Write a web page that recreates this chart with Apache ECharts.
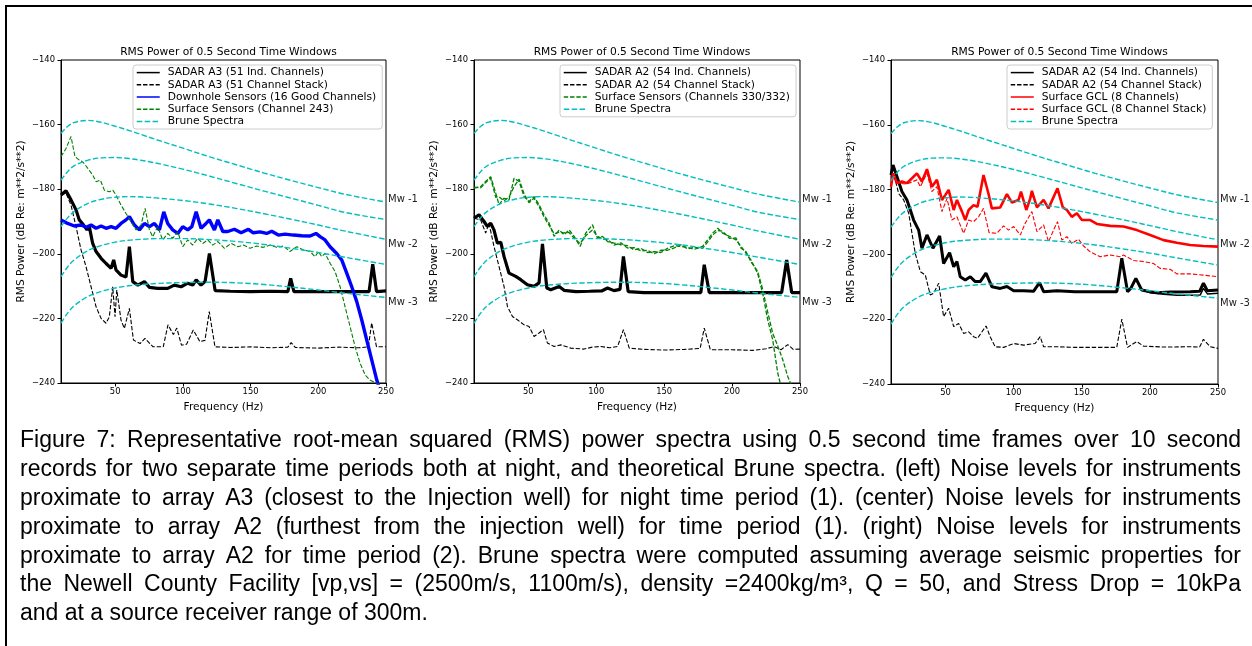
<!DOCTYPE html>
<html>
<head>
<meta charset="utf-8">
<script src="https://cdn.jsdelivr.net/npm/echarts@6/dist/echarts.min.js"></script>
<style>html,body{margin:0;padding:0;background:#fff;}#c{width:1252px;height:646px;}</style>
</head>
<body>
<div id="c"></div>
<script>
// ---------------- DATA ----------------
const chartTitle = 'RMS Power of 0.5 Second Time Windows';
const xTicks = [50, 100, 150, 200, 250];
const mwLabels = ['Mw -1', 'Mw -2', 'Mw -3'];

// Brune spectra (shared by all three panels)
const bruneFreq = [10, 15, 20, 30, 40, 50, 60, 70, 80, 100, 120, 140, 160, 180, 200, 220, 250];
const brune1 = [-162.7, -160.5, -159.3, -158.7, -159.3, -160.5, -161.8, -163.2, -164.6, -167.3, -170, -172.5, -175, -177.3, -179.5, -181.6, -184];
const brune2 = [-177.2, -174.5, -172.7, -171, -170.3, -170.2, -170.5, -171.1, -171.9, -173.8, -176, -178.3, -180.6, -182.8, -185, -187.2, -189.4];
const brune3 = [-191.6, -188.8, -186.8, -184.4, -183.1, -182.5, -182.3, -182.4, -182.7, -183.5, -184.6, -186, -187.6, -189.3, -191.1, -193, -195.5];
const brune4 = [-207.1, -204, -201.8, -199, -197.4, -196.4, -195.8, -195.5, -195.3, -195.3, -195.6, -196.2, -197.1, -198.3, -199.6, -201.1, -203.3];
const brune5 = [-221.5, -218.3, -216, -213.2, -211.6, -210.6, -209.9, -209.5, -209.2, -208.9, -208.8, -209, -209.5, -210.3, -211.2, -212.2, -213.5];

// Panel 1 (array A3)
const p1Ind = [[10,-181.8],[13.7,-180.5],[17.4,-183.3],[21.1,-186.4],[23.5,-189.5],[26.7,-191.1],[29.2,-192.6],[30.9,-191.6],[33.4,-196.8],[35.9,-199.3],[39.6,-201.4],[43.3,-203],[47,-204.5],[48.9,-201.9],[50.6,-205],[54.3,-206.6],[58,-207.2],[60.5,-197.8],[63,-208.6],[66.7,-209.7],[71.6,-208.6],[75.3,-210.4],[81.4,-210.7],[88.8,-210.7],[93.7,-209.7],[98.7,-210.2],[103.6,-209.1],[107.3,-209.7],[109.8,-208.1],[113.4,-209.7],[116.4,-208.6],[119.6,-199.9],[123.8,-211.4],[135,-211.6],[150,-211.7],[165,-211.6],[177.5,-211.7],[179.6,-207.6],[182,-211.7],[200,-211.7],[220,-211.7],[237.5,-211.7],[240.2,-203.2],[243,-211.7],[250,-211.5]];
const p1Stack = [[10,-181.8],[13.7,-181.2],[17.4,-184.9],[21.1,-191.6],[24.8,-198.8],[28.5,-204],[32.2,-210.2],[35.9,-216.4],[39.6,-220],[43.3,-221.5],[45.7,-219.5],[48.2,-210.2],[49.9,-219.5],[51.2,-211.2],[54.3,-220.5],[56.8,-223.1],[60.5,-216.9],[63.5,-226.7],[68.4,-227.8],[72,-226.2],[78,-228.8],[85.5,-228.8],[89,-222],[93,-225],[95.5,-223],[99,-228.3],[102.7,-228],[107.7,-223.6],[112.6,-227.2],[116.3,-226.8],[119.5,-217.9],[123.7,-228.8],[135,-229],[150,-228.8],[165,-229.1],[177.5,-228.9],[180,-227.5],[183,-229],[200,-229.2],[215,-228.9],[230,-229.1],[237,-228.8],[239.4,-221.4],[243,-228.8],[250,-228.8]];
const p1Downhole = [[10,-189.5],[14.9,-190.6],[19.9,-191.4],[24.8,-191.1],[28.5,-191.8],[32.2,-191.1],[35.9,-192.1],[39.6,-191.4],[43.3,-192.1],[47,-191.6],[50.6,-192.1],[54.3,-190.6],[58,-189.5],[60.5,-188.5],[64.2,-191.1],[67.9,-192.6],[71.6,-190.6],[75.3,-191.6],[79,-190.6],[82.7,-192.6],[85.9,-187],[88.8,-190.6],[92.5,-192.6],[96.2,-193.7],[99.9,-191.6],[103.6,-192.6],[106.6,-191.6],[109.8,-187],[113.4,-192.1],[117.1,-190.6],[119.6,-189.5],[123.3,-192.6],[125.8,-189.5],[129.5,-193.1],[133.2,-193.1],[138,-192.4],[143,-193.5],[148.4,-192.4],[152,-193.5],[157,-193.2],[161.9,-193.7],[165.6,-193],[170.5,-194.2],[175.4,-193.9],[181.6,-194.2],[187.8,-194.4],[193.9,-194.5],[198.3,-193.7],[201.3,-194.7],[205,-195.7],[208.7,-197.8],[213.6,-199.9],[217.3,-201.9],[221,-206],[224.7,-210.2],[228.4,-214.8],[232.1,-220.5],[235.8,-226.7],[239.5,-232.9],[243.2,-239.1],[246,-243],[250,-248]];
const p1Surface = [[10,-169.9],[13.7,-167.4],[17.4,-163.7],[20.3,-169.9],[23.5,-171],[26,-171.5],[29.7,-173.5],[33.4,-175.6],[35.9,-177.7],[39.1,-177.2],[42,-180.3],[45.7,-180.8],[48.2,-180.3],[50.6,-181.8],[54.3,-184.9],[58,-187.5],[61.7,-190],[65.4,-192.6],[69.1,-191.1],[72.1,-185.9],[75.3,-192.6],[77.7,-194.7],[81.4,-191.6],[85.1,-195.7],[88.8,-193.7],[92.5,-195.2],[96.2,-193.2],[99.9,-197.8],[103.6,-195.7],[107.3,-197.3],[111,-195.2],[114.7,-196.8],[118.4,-195.7],[122,-197.3],[125.8,-196.2],[130.7,-198.3],[135.6,-196.8],[140.5,-197.8],[144.7,-197.3],[149.6,-198.3],[154.5,-197.6],[159.4,-198],[164.4,-197.3],[169.3,-198],[174.2,-197.6],[179.1,-199.3],[184.1,-197.8],[189,-198.8],[193.9,-199.3],[197.6,-200.9],[200.1,-199.3],[202.5,-200.9],[205,-199.9],[208.7,-202.9],[212.4,-205.5],[216.1,-210.2],[219.8,-216.4],[223.5,-222.6],[227.2,-228.8],[230.9,-233.9],[234.6,-237.5],[238.2,-239.1],[243.2,-240.1],[250,-240.5]];

// Panel 2 (array A2, period 1)
const p2Ind = [[10,-189],[13.7,-187.9],[17.4,-190],[19.8,-191.5],[22.3,-190.5],[24.7,-192.6],[27.2,-196.7],[29.7,-196.4],[32.1,-200.8],[35.8,-206],[40.7,-207],[44.4,-208],[49.3,-209.6],[54.2,-210.1],[57.9,-209],[60.4,-196.9],[63.6,-210.6],[66.5,-211.1],[72.7,-210.1],[76.3,-211.3],[85,-211.7],[95,-211.6],[104,-211.5],[108.3,-210.6],[113,-211.4],[117.5,-211],[120,-200.8],[123.5,-211.7],[135,-212],[150,-212],[165,-212],[177,-212],[179.5,-203.4],[183.2,-212],[200,-212],[220,-212],[236.5,-212],[240.2,-201.9],[243.9,-212],[250,-212]];
const p2Stack = [[10,-189],[14.9,-189.5],[18.6,-193.6],[21,-190.5],[24.7,-197.7],[28.4,-203.9],[32.1,-210.1],[34.6,-216.3],[38.3,-219.4],[41.9,-220.4],[46.9,-222],[50.5,-222.5],[54.2,-225.6],[57.9,-224.5],[61.1,-223.5],[64,-227.6],[69,-228.7],[73.9,-228.2],[81.3,-229.2],[91,-229.5],[97,-228.9],[103.4,-228.7],[110,-229.1],[115.7,-228.7],[120,-223.5],[124.3,-229.2],[135,-229.6],[150,-229.8],[165,-229.6],[176.5,-229.3],[179.5,-223],[184,-229.7],[200,-229.7],[215,-229.9],[225,-229.4],[231,-228.7],[236,-229.7],[241,-228.1],[245,-229.6],[250,-229.5]];
const p2SurfaceA = [[10,-179.7],[14.9,-179.2],[18.6,-177.6],[22.3,-176.1],[26,-181.2],[28.4,-184.8],[32.1,-182.8],[35.8,-183.3],[39.5,-176.6],[43.2,-177.6],[46.9,-182.3],[50.5,-183.8],[54.2,-182.3],[57.9,-184.8],[61.6,-187.9],[65.3,-190.5],[69,-194.6],[72.7,-192.6],[76.3,-194.1],[80,-192.6],[83.7,-194.6],[88.1,-197.7],[92.3,-193.6],[97.2,-191],[100.9,-195.2],[104.6,-194.6],[108.3,-196.2],[113.2,-196.7],[118.1,-197.2],[123,-197.5],[127.9,-198.8],[132.9,-198.3],[137.8,-199.6],[142.7,-199.3],[147.6,-199.6],[152.5,-198.3],[157.4,-197.5],[162.3,-197.7],[167.2,-198],[172.2,-198.6],[178.3,-197.7],[182,-195.7],[185.7,-193.6],[189.4,-192.1],[193,-193.6],[198,-194.6],[202.9,-195.7],[206.6,-197.7],[210.2,-199.8],[213.9,-201.9],[218.8,-206],[222.5,-212.2],[226.2,-220.4],[229.9,-226.6],[233.6,-236.9],[236,-241],[240,-247]];
const p2SurfaceB = [[10,-179.4],[14.9,-179.6],[18.6,-177.9],[22.3,-176.6],[26,-182.5],[28.4,-182.3],[32.1,-183.6],[35.8,-182.4],[39.5,-179.2],[43.2,-176.9],[46.9,-181.5],[50.5,-184.2],[54.2,-182.8],[57.9,-185.4],[61.6,-188.6],[65.3,-191.2],[69,-193.8],[72.7,-193.3],[76.3,-193.5],[80,-193.4],[83.7,-195.2],[88.1,-196.8],[92.3,-194.4],[97.2,-192.6],[100.9,-194.6],[104.6,-195.4],[108.3,-195.6],[113.2,-197.3],[118.1,-196.6],[123,-198.2],[127.9,-198.1],[132.9,-199.1],[137.8,-198.9],[142.7,-200],[147.6,-198.9],[152.5,-198.9],[157.4,-198.2],[162.3,-197.2],[167.2,-198.5],[172.2,-198],[178.3,-198.3],[182,-196.4],[185.7,-194.2],[189.4,-192.8],[193,-193],[198,-195.2],[202.9,-195.1],[206.6,-198.3],[210.2,-199.3],[213.9,-202.5],[218.8,-205.4],[222.5,-211],[226.2,-218],[229.9,-224.6],[233.6,-228.5],[237.3,-232.8],[241,-238],[243.4,-240.5],[246,-244]];

// Panel 3 (array A2, period 2)
const p3Ind = [[10,-175.5],[11.5,-172.4],[14.4,-176],[18,-180.6],[21.7,-183.2],[24.2,-186.3],[26.6,-189.4],[30.3,-192.5],[32.7,-198.1],[36.4,-194],[40.8,-198.1],[45.7,-194.3],[48.6,-202.8],[53,-199.5],[56,-203.8],[58.4,-202.2],[60.8,-206.9],[64.5,-207.9],[68.2,-206.9],[71.8,-208.4],[75.5,-208.4],[79.7,-205.8],[84.1,-210],[90.2,-210.5],[95.1,-209.9],[100,-211.2],[107.3,-211.2],[114.6,-211.4],[119,-208.7],[122,-211.5],[131.7,-211.2],[145,-211.5],[160,-211.5],[175.7,-211.5],[179.4,-201.2],[183.6,-211.5],[186,-210.5],[189.7,-207.4],[194,-211],[200.2,-211.5],[205,-211.8],[215,-211.6],[229.5,-211.5],[236.5,-211.4],[239.3,-208.9],[242.2,-211.2],[250,-211]];
const p3IndLow = [[194,-211],[200,-211.8],[210,-212.3],[220,-212.6],[230,-212.6],[237,-212.5],[239.3,-210.5],[242.2,-212.2],[250,-212]];
const p3Stack = [[10,-176],[12,-175],[15.6,-181.2],[19.3,-183.2],[23,-187.3],[25.4,-193.5],[27.8,-199.7],[31.5,-205.3],[35.2,-206.4],[38.8,-212.5],[41.3,-212],[45,-208.9],[48.6,-219.2],[52.3,-216.6],[56,-222.3],[59.6,-221.3],[63.3,-224.4],[67,-223.9],[70.6,-225.4],[73.5,-225.9],[75.9,-224.4],[79.8,-222.1],[82.8,-225.4],[86.4,-228.5],[92.6,-228.7],[100,-227.5],[107.3,-228],[115.8,-227.5],[119.5,-225.4],[122,-228.5],[131.7,-228.5],[145,-228.7],[160,-228.7],[175.7,-228.7],[179.4,-220],[183.6,-228.7],[190.4,-226.9],[195.3,-228.3],[210,-228.6],[229.5,-228.5],[236.5,-228.6],[239.3,-226.2],[244.2,-228.5],[250,-229]];
const p3Gcl = [[10,-179.1],[11.5,-175],[14.4,-178],[18,-177.5],[21.7,-178],[25.4,-176.5],[29,-175],[32.7,-177.5],[36.4,-173.7],[40,-179.1],[43.7,-177],[47.4,-183.2],[49.8,-181.7],[52.3,-180.1],[56,-186.3],[58.4,-183.2],[62.1,-186.8],[64.5,-189.4],[67,-186.3],[70.6,-184.8],[73.5,-185.3],[77.9,-175.5],[81.5,-181.2],[84,-185.8],[90.2,-185.5],[95.1,-181.4],[98.8,-184],[103.6,-183.2],[105.4,-180.6],[109.3,-186.3],[112.2,-182.7],[113.4,-180.4],[117.1,-185.5],[122,-183.2],[125.6,-185.8],[132.2,-179.6],[136.1,-185.5],[139.1,-186.3],[142.7,-188.4],[146.4,-187.3],[150.1,-189.4],[156.2,-189.4],[161.1,-190.6],[170.9,-191.2],[180.7,-191.4],[190.4,-192.5],[200.2,-194],[210,-195.6],[219.8,-196.4],[229.5,-197.1],[239.3,-197.4],[250,-197.6]];
const p3GclStack = [[10,-179.1],[11.5,-175.5],[14.4,-178],[21.7,-178.3],[29,-177],[31.5,-179.1],[36.4,-175],[40,-180.6],[43.7,-179.1],[47.4,-186.8],[51.1,-182.7],[54.7,-189.4],[58.4,-188.4],[63.3,-193.5],[67,-189.4],[70.6,-189.9],[74.3,-188.4],[77.9,-185.8],[82,-193.3],[87.6,-193.5],[92.6,-191.2],[96.3,-192.5],[100,-191.4],[104.9,-194],[108.5,-190.4],[113.4,-186.8],[117.1,-193],[122,-190.9],[125.6,-196.1],[129.3,-192.5],[132.2,-189.9],[135.4,-195.6],[139.1,-194.5],[142.7,-196.6],[147.6,-195.3],[151.3,-197.4],[156.2,-199.2],[163.5,-200.7],[170.9,-200.2],[178.2,-200.7],[180.7,-200.2],[188,-201.9],[195.3,-202.2],[202.6,-202.8],[207.5,-204.3],[214.9,-204.6],[219.8,-206],[229.5,-206],[239.3,-206.4],[250,-206.9]];

const captionLines = [
  'Figure 7: Representative root-mean squared (RMS) power spectra using 0.5 second time frames over 10 second',
  'records for two separate time periods both at night, and theoretical Brune spectra. (left) Noise levels for instruments',
  'proximate to array A3 (closest to the Injection well) for night time period (1). (center) Noise levels for instruments',
  'proximate to array A2 (furthest from the injection well) for time period (1). (right) Noise levels for instruments',
  'proximate to array A2 for time period (2). Brune spectra were computed assuming average seismic properties for',
  'the Newell County Facility [vp,vs] = (2500m/s, 1100m/s), density =2400kg/m\u00b3, Q = 50, and Stress Drop = 10kPa',
  'and at a source receiver range of 300m.'
];

// ---------------- LAYOUT / STYLE ----------------
const FONT = '"DejaVu Sans", Verdana, sans-serif';
const grids = [
  {left: 61, top: 60, width: 325, height: 323},
  {left: 474, top: 60, width: 326, height: 323},
  {left: 891, top: 60, width: 327, height: 324}
];
const BLACK = '#000000', BLUE = '#0000ff', GREEN = '#008000', CYAN = '#00bfbf', RED = '#ff0000';
const DASH = [5.5, 2.4];
const DASH_THIN = [4.4, 1.9];

const NAMES = {
  a3Ind: 'SADAR A3 (51 Ind. Channels)', a3Stack: 'SADAR A3 (51 Channel Stack)',
  down: 'Downhole Sensors (16 Good Channels)', surf243: 'Surface Sensors (Channel 243)',
  brune: 'Brune Spectra',
  a2Ind: 'SADAR A2 (54 Ind. Channels)', a2Stack: 'SADAR A2 (54 Channel Stack)',
  surf330: 'Surface Sensors (Channels 330/332)',
  gcl: 'Surface GCL (8 Channels)', gclStack: 'Surface GCL (8 Channel Stack)'
};

function ln(name, data, gi, color, width, dash, z) {
  return {
    type: 'line', name, data, xAxisIndex: gi, yAxisIndex: gi,
    symbol: 'none', showSymbol: false, silent: true, z: z || 2,
    lineStyle: {color, width, type: dash || 'solid'}, itemStyle: {color},
    emphasis: {disabled: true}
  };
}
const bruneSets = [brune1, brune2, brune3, brune4, brune5];
const mwIdx = {0: 0, 2: 1, 4: 2};
const mwOffsets = [[0, -3], [0, 5], [0, 5]];
function bruneSeries(gi) {
  return bruneSets.map((vals, k) => {
    const s = ln(NAMES.brune, bruneFreq.map((f, j) => [f, vals[j]]), gi, CYAN, 1.4, DASH, 5);
    s.smooth = 0.35;
    if (k in mwIdx) {
      s.endLabel = {show: true, formatter: mwLabels[mwIdx[k]], color: '#222', fontSize: 10,
        fontFamily: FONT, distance: 2, offset: mwOffsets[mwIdx[k]]};
    }
    return s;
  });
}

const series = [
  ln(NAMES.a3Ind, p1Ind, 0, BLACK, 3.2),
  ln(NAMES.a3Stack, p1Stack, 0, BLACK, 1.1, DASH_THIN),
  ln(NAMES.down, p1Downhole, 0, BLUE, 3.4, null, 3),
  ln(NAMES.surf243, p1Surface, 0, GREEN, 1.1, DASH_THIN, 3),
  ...bruneSeries(0),
  ln(NAMES.a2Ind, p2Ind, 1, BLACK, 3.2),
  ln(NAMES.a2Stack, p2Stack, 1, BLACK, 1.1, DASH_THIN),
  ln(NAMES.surf330, p2SurfaceA, 1, GREEN, 1.3, DASH_THIN, 3),
  ln(NAMES.surf330, p2SurfaceB, 1, GREEN, 1.3, DASH_THIN, 3),
  ...bruneSeries(1),
  ln(NAMES.a2Ind, p3Ind, 2, BLACK, 3),
  ln(NAMES.a2Ind, p3IndLow, 2, BLACK, 1.5),
  ln(NAMES.a2Stack, p3Stack, 2, BLACK, 1.1, DASH_THIN),
  ln(NAMES.gcl, p3Gcl, 2, RED, 2.6, null, 3),
  ln(NAMES.gclStack, p3GclStack, 2, RED, 1.1, DASH_THIN, 3),
  ...bruneSeries(2)
];

const legendItems = [
  [NAMES.a3Ind, NAMES.a3Stack, NAMES.down, NAMES.surf243, NAMES.brune],
  [NAMES.a2Ind, NAMES.a2Stack, NAMES.surf330, NAMES.brune],
  [NAMES.a2Ind, NAMES.a2Stack, NAMES.gcl, NAMES.gclStack, NAMES.brune]
];
const legendLeft = [133, 560, 1007];

const tickStyle = {fontSize: 8.4, color: '#000', fontFamily: FONT};
function fmtY(v) { return (v < 0 ? '\u2212' : '') + Math.abs(v); }

const option = {
  animation: false,
  backgroundColor: '#fff',
  title: grids.map(g => ({
    text: chartTitle, left: g.left + g.width / 2, top: 42, textAlign: 'center',
    textStyle: {fontSize: 10.7, fontWeight: 'normal', color: '#000', fontFamily: FONT}
  })),
  grid: grids.map(g => Object.assign({show: true, borderColor: '#000', borderWidth: 1, backgroundColor: 'transparent'}, g)),
  xAxis: grids.map((g, i) => ({
    type: 'value', gridIndex: i, min: 10, max: 250,
    name: 'Frequency (Hz)', nameLocation: 'middle', nameGap: 19,
    nameTextStyle: {fontSize: 10.6, color: '#000', fontFamily: FONT},
    axisLine: {show: true, lineStyle: {color: '#000', width: 1}},
    axisTick: {show: true, length: 3.5, lineStyle: {color: '#000'}, customValues: xTicks},
    axisLabel: Object.assign({margin: 5, customValues: xTicks}, tickStyle),
    splitLine: {show: false}
  })),
  yAxis: grids.map((g, i) => ({
    type: 'value', gridIndex: i, min: -240, max: -140, interval: 20,
    name: 'RMS Power (dB Re: m**2/s**2)', nameLocation: 'middle', nameGap: 34,
    nameTextStyle: {fontSize: 10.6, color: '#000', fontFamily: FONT},
    axisLine: {show: true, lineStyle: {color: '#000', width: 1}},
    axisTick: {show: true, length: 3.5, lineStyle: {color: '#000'}},
    axisLabel: Object.assign({margin: 6, formatter: fmtY}, tickStyle),
    splitLine: {show: false}
  })),
  legend: legendItems.map((items, i) => ({
    data: items, orient: 'vertical', left: legendLeft[i], top: 65,
    itemWidth: 23, itemHeight: 14, itemGap: 1,
    padding: [2, 6, 2, 3],
    backgroundColor: 'rgba(255,255,255,0.8)', borderColor: '#cccccc', borderWidth: 1, borderRadius: 3,
    textStyle: {fontSize: 10.7, color: '#000', fontFamily: FONT, padding: [0, 0, 0, 3]},
    lineStyle: {width: 1.5},
    itemStyle: {opacity: 0, borderWidth: 0},
    selectedMode: false
  })),
  series
};

// ---------------- CAPTION (justified text) ----------------
const CAP_X0 = 20, CAP_X1 = 1241, CAP_Y0 = 441, CAP_DY = 28.8, CAP_SIZE = 23;
function buildCaption() {
  const font = CAP_SIZE + 'px "Liberation Sans", Arial, sans-serif';
  const ctx = document.createElement('canvas').getContext('2d');
  ctx.font = font;
  const els = [];
  captionLines.forEach((line, i) => {
    const y = CAP_Y0 + i * CAP_DY;
    const last = i === captionLines.length - 1;
    if (last) {
      els.push({type: 'text', x: CAP_X0, y, silent: true,
        style: {text: line, font, fill: '#000', verticalAlign: 'middle', align: 'left'}});
      return;
    }
    const words = line.split(' ');
    const widths = words.map(w => ctx.measureText(w).width);
    const total = widths.reduce((a, b) => a + b, 0);
    const gap = (CAP_X1 - CAP_X0 - total) / (words.length - 1);
    let x = CAP_X0;
    words.forEach((w, j) => {
      els.push({type: 'text', x, y, silent: true,
        style: {text: w, font, fill: '#000', verticalAlign: 'middle', align: 'left'}});
      x += widths[j] + gap;
    });
  });
  return els;
}
option.graphic = [
  {type: 'rect', silent: true, shape: {x: 6, y: 6, width: 1300, height: 700},
   style: {fill: 'none', stroke: '#000', lineWidth: 2}, z: 100},
  ...buildCaption()
];

const chart = echarts.init(document.getElementById('c'), null, {renderer: 'canvas'});
chart.setOption(option);
</script>
</body>
</html>
